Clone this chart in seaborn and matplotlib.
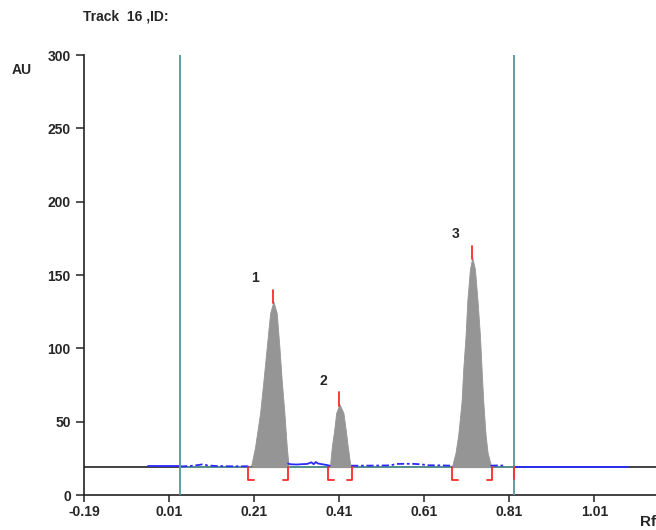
"""
Densitogram of one TLC track (Track 16): three peaks over a flat baseline.
"""
import numpy as np
import matplotlib
matplotlib.use("Agg")
import matplotlib.pyplot as plt
import seaborn as sns

# --- data ------------------------------------------------------------------
x_ticks = [-0.19, 0.01, 0.21, 0.41, 0.61, 0.81, 1.01]
y_ticks = [0, 50, 100, 150, 200, 250, 300]

baseline_au = 19.0
start_line_rf = 0.036
end_line_rf = 0.82

peak1_rf = [0.204, 0.2124, 0.2241, 0.232, 0.2398, 0.2476, 0.2555, 0.2633,
            0.2695, 0.275, 0.2813, 0.2868, 0.2907]
peak1_au = [21, 33, 56, 78, 101, 124, 132, 124, 101, 78, 56, 33, 21]

peak2_rf = [0.3888, 0.3928, 0.3982, 0.403, 0.4107, 0.4201, 0.4256, 0.4303,
            0.4359]
peak2_au = [21, 33, 44, 56, 62, 56, 44, 33, 21]

peak3_rf = [0.6759, 0.6837, 0.690, 0.6979, 0.7018, 0.7073, 0.7112, 0.7175,
            0.723, 0.7293, 0.7355, 0.741, 0.7449, 0.7488, 0.7543, 0.759, 0.7669]
peak3_au = [20, 29, 41, 64, 86, 109, 132, 154, 162, 154, 132, 109, 86, 64,
            41, 29, 20]

peak_labels = ["1", "2", "3"]
peak_label_rf = [0.212, 0.372, 0.683]
peak_label_au = [148, 78, 178]
apex_rf = [0.2555, 0.4107, 0.723]
apex_au = [131, 61, 161]
apex_top_au = [140, 70, 170]
bracket_left_rf = [0.196, 0.384, 0.676]
bracket_right_rf = [0.290, 0.441, 0.770]

# blue (measured) baseline pieces
blue_solid_left_rf = [-0.04, 0.036]
blue_solid_left_au = [19.5, 19.5]
blue_dash1_rf = [0.036, 0.06, 0.08, 0.09, 0.10, 0.12, 0.15, 0.18, 0.204]
blue_dash1_au = [19.5, 19.8, 20.5, 21.0, 20.2, 19.8, 19.6, 19.6, 19.6]
blue_mid_rf = [0.290, 0.295, 0.31, 0.32, 0.335, 0.345, 0.35, 0.355, 0.36,
               0.37, 0.38, 0.388]
blue_mid_au = [21.5, 21.0, 20.8, 21.0, 21.2, 22.3, 21.0, 22.5, 21.5, 21.0,
               20.5, 20.0]
blue_dash2_rf = [0.438, 0.46, 0.50, 0.53, 0.545, 0.58, 0.60, 0.62, 0.65, 0.676]
blue_dash2_au = [20.0, 20.0, 20.1, 20.2, 21.2, 21.3, 21.0, 20.3, 20.2, 20.0]
blue_dash3_rf = [0.766, 0.785, 0.80]
blue_dash3_au = [20.0, 20.2, 20.0]
blue_solid_right_rf = [0.82, 1.09]
blue_solid_right_au = [19.4, 19.4]

# --- style ------------------------------------------------------------------
sns.set_style("ticks")
plt.rcParams["font.family"] = ["Liberation Sans", "DejaVu Sans"]
plt.rcParams["font.weight"] = "bold"

BLUE = "#2b2bff"
TEAL = "#5f9ea0"
RED = "#ff2a2a"
GRAY = "#959595"
DASH = (0, (4, 1.5, 1.5, 1.5))
FS = 10

fig = plt.figure(figsize=(6.56, 5.30), dpi=100)
ax = fig.add_axes([0.128, 0.066, 0.872, 0.830])

# black reference line across the whole plot
ax.axhline(baseline_au, color="#333333", lw=1.3, zorder=1)
# teal baseline between start/end lines
sns.lineplot(x=[start_line_rf, end_line_rf], y=[baseline_au, baseline_au],
             color=TEAL, lw=1.2, ax=ax, zorder=2)

# peaks as gray areas above the baseline
for rf, au in [(peak1_rf, peak1_au), (peak2_rf, peak2_au), (peak3_rf, peak3_au)]:
    ax.fill_between(rf, baseline_au, au, color=GRAY, lw=0.6, edgecolor=GRAY,
                    zorder=3)

# blue measured trace
for rf, au, ls in [(blue_solid_left_rf, blue_solid_left_au, "-"),
                   (blue_dash1_rf, blue_dash1_au, DASH),
                   (blue_mid_rf, blue_mid_au, "-"),
                   (blue_dash2_rf, blue_dash2_au, DASH),
                   (blue_dash3_rf, blue_dash3_au, DASH),
                   (blue_solid_right_rf, blue_solid_right_au, "-")]:
    sns.lineplot(x=rf, y=au, color=BLUE, lw=1.3, linestyle=ls, ax=ax,
                 zorder=4, sort=False)

# start / end vertical lines
for xv in [start_line_rf, end_line_rf]:
    ax.axvline(xv, ymin=0, ymax=1, color=TEAL, lw=1.4, zorder=5)

# red peak markers
arm = 0.013
for i in range(3):
    ax.plot([apex_rf[i], apex_rf[i]], [apex_au[i], apex_top_au[i]],
            color=RED, lw=1.3, zorder=6)
    xl, xr = bracket_left_rf[i], bracket_right_rf[i]
    ax.plot([xl, xl, xl + arm], [baseline_au, 10, 10], color=RED, lw=1.3, zorder=6)
    ax.plot([xr, xr, xr - arm], [baseline_au, 10, 10], color=RED, lw=1.3, zorder=6)
    ax.text(peak_label_rf[i], peak_label_au[i], peak_labels[i], fontsize=FS,
            fontweight="bold", ha="center", va="center")
ax.plot([end_line_rf, end_line_rf], [baseline_au, 11], color=RED, lw=1.3, zorder=6)

# axes
ax.set_xlim(-0.19, 1.155)
ax.set_ylim(0, 300)
ax.set_xticks(x_ticks)
ax.set_xticklabels([f"{v:.2f}" for v in x_ticks])
ax.set_yticks(y_ticks)
ax.tick_params(axis="both", labelsize=FS, length=6, width=1.1, color="#222222")
ax.tick_params(axis="x", length=5, pad=2)
sns.despine(ax=ax, top=True, right=True)
for s in ["left", "bottom"]:
    ax.spines[s].set_linewidth(1.2)
    ax.spines[s].set_color("#222222")

fig.text(0.127, 0.968, "Track  16 ,ID:", fontsize=FS, fontweight="bold",
         ha="left", va="center")
fig.text(0.018, 0.868, "AU", fontsize=FS, fontweight="bold",
         ha="left", va="center")
fig.text(0.975, 0.015, "Rf", fontsize=FS + 1, fontweight="bold",
         ha="left", va="center")

fig.savefig("out.png", dpi=100)
